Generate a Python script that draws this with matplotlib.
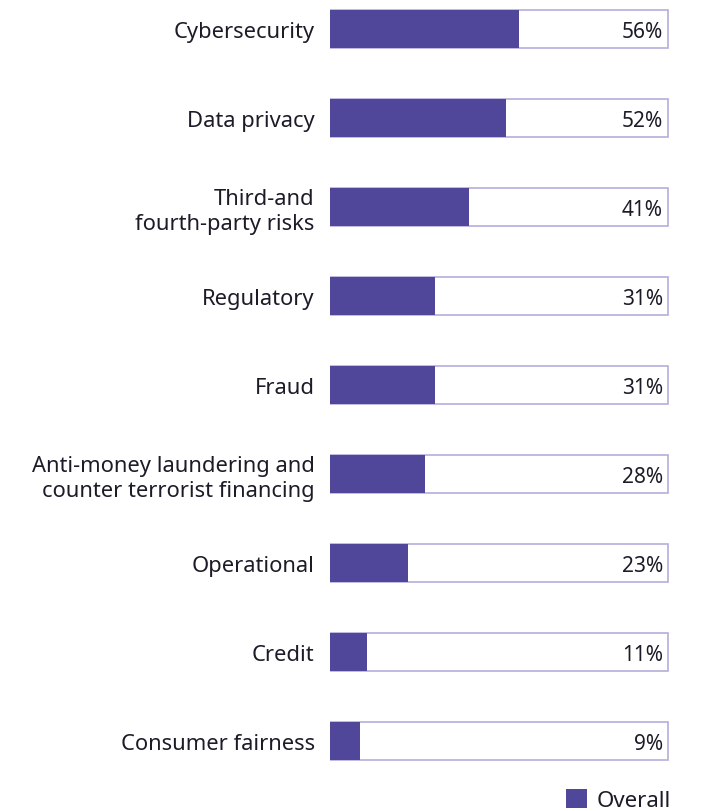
import matplotlib.pyplot as plt
from matplotlib.patches import Patch

plt.rcParams['font.family'] = ['Noto Sans', 'DejaVu Sans']

categorias = ['Cybersecurity', 'Data privacy', 'Third-and\nfourth-party risks',
              'Regulatory', 'Fraud',
              'Anti-money laundering and\ncounter terrorist financing',
              'Operational', 'Credit', 'Consumer fairness']
valores = [56, 52, 41, 31, 31, 28, 23, 11, 9]
serie = 'Overall'

cor_barra = '#50469a'
cor_borda = '#b5aedb'
cor_texto = '#1c1c28'

fig = plt.figure(figsize=(7.08, 8.12), dpi=100)
ax = fig.add_axes([330 / 708, 31 / 812, 339 / 708, 780 / 812])

pos = list(range(len(categorias)))

# Caixa de fundo (100%) e barra de valor
ax.barh(pos, [100] * len(pos), height=0.427, color='white', edgecolor=cor_borda, linewidth=1.2)
ax.barh(pos, valores, height=0.427, color=cor_barra, edgecolor='none')

for p, v in zip(pos, valores):
    ax.annotate(f'{v}%', xy=(100, p), xytext=(-3.5, -1.5), textcoords='offset points',
                ha='right', va='center', fontsize=15, color=cor_texto)

ax.set_xlim(0, 100.3)
ax.set_ylim((780 - 29) / 89, -29 / 89)
ax.set_yticks(pos)
ax.set_yticklabels(categorias, fontsize=15.8, color=cor_texto, ha='right', linespacing=1.2)
ax.tick_params(axis='y', length=0, pad=11)
ax.set_xticks([])
for s in ax.spines.values():
    s.set_visible(False)

fig.legend(handles=[Patch(facecolor=cor_barra, edgecolor='none', label=serie)],
           loc='lower right', bbox_to_anchor=(691 / 708, -20 / 812), frameon=False,
           fontsize=16, handlelength=0.95, handleheight=0.95, handletextpad=0.45,
           labelcolor=cor_texto)

plt.savefig('out.png', dpi=100)
